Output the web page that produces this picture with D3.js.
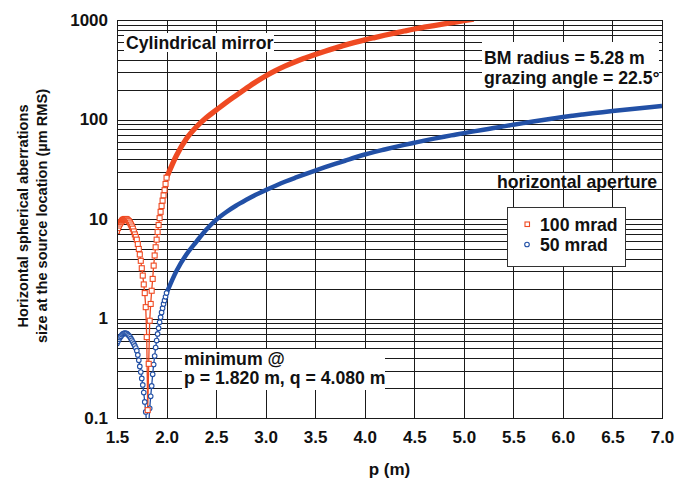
<!DOCTYPE html>
<html>
<head>
<meta charset="utf-8">
<script src="https://cdn.jsdelivr.net/npm/d3@7"></script>
<style>
  body { margin: 0; background: #fff; }
  text { font-family: "Liberation Sans", Arial, sans-serif; font-weight: bold; fill: #111; }
</style>
</head>
<body>
<div id="chart"></div>
<script>
//data
//fine sampling around the minimum (markers visible)
const pFine = [1.50,1.51,1.52,1.53,1.54,1.55,1.56,1.57,1.58,1.59,
  1.60,1.61,1.62,1.63,1.64,1.65,1.66,1.67,1.68,1.69,
  1.70,1.71,1.72,1.73,1.74,1.75,1.76,1.77,1.78,1.79,
  1.80,1.81,1.82,1.83,1.84,1.85,1.86,1.87,1.88,1.89,
  1.90,1.91,1.92,1.93,1.94,1.95,1.96,1.97,1.98,1.99,2.00]
const redFine = [7.6,8.1,8.6,9.0,9.3,9.6,9.8,9.9,10.0,10.0,
  9.9,9.7,9.5,9.2,8.8,8.4,8.0,7.5,7.0,6.6,
  6.2,5.6,5.0,4.4,3.8,3.2,2.7,2.2,1.8,1.3,
  0.65,0.12,0.35,0.95,1.4,1.9,2.5,3.4,4.3,5.2,
  6.2,7.4,8.7,10.2,11.8,13.5,15.3,17.3,19.5,22.5,26]
const blueFine = [0.56,0.59,0.62,0.645,0.665,0.685,0.70,0.71,0.715,0.71,
  0.705,0.69,0.675,0.655,0.63,0.605,0.58,0.555,0.53,0.505,
  0.475,0.43,0.38,0.33,0.29,0.25,0.215,0.18,0.145,0.115,
  0.085,0.05,0.085,0.125,0.165,0.21,0.275,0.345,0.42,0.51,
  0.60,0.70,0.80,0.915,1.03,1.15,1.27,1.40,1.52,1.65,1.80]

//coarse sampling for the rest (markers merge into a band)
const pCoarse = [2.0,2.1,2.2,2.3,2.4,2.5,2.6,2.7,2.8,2.9,
  3.0,3.1,3.2,3.3,3.4,3.5,3.6,3.7,3.8,3.9,
  4.0,4.1,4.2,4.3,4.4,4.5,4.6,4.7,4.8,4.9,
  5.0,5.1,5.2,5.3,5.4,5.5,5.6,5.7,5.8,5.9,
  6.0,6.1,6.2,6.3,6.4,6.5,6.6,6.7,6.8,6.9,7.0]
const redCoarse = [26,43.5,64,84,104,124,148,174,204,238,
  274,310,346,381,415,450,486,522,559,595,
  631,666,702,738,775,812,846,880,914,948,
  985,1020]
const blueCoarse = [1.8,3.0,4.4,5.9,7.8,9.8,11.7,13.6,15.5,17.5,
  19.5,21.6,23.8,26,28.3,30.7,33.2,35.8,38.5,41.5,
  44.5,47.3,50,52.8,55.6,58.4,61.3,64.2,67.1,70,
  73,76,79,82,85.3,88.6,92,95.5,99,102.5,
  106,109.2,112.3,115.4,118.5,121.5,124.5,127.5,130.5,133.5,136.5]

const xTicks = [1.5,2.0,2.5,3.0,3.5,4.0,4.5,5.0,5.5,6.0,6.5,7.0]
const yTicks = [0.1,1,10,100,1000]
const yTickLabels = ['0.1','1','10','100','1000']
const seriesNames = ['100 mrad','50 mrad']

//dimensions
const dimensions = { width: 675, height: 482 }
const plot = { left: 117, right: 662, top: 20, bottom: 418 }
const red = '#ef4a22'
const blue = '#2250a6'
const noteSize = 17.7

const svg = d3.select('#chart')
  .append('svg')
  .attr('width', dimensions.width)
  .attr('height', dimensions.height)

//scales
const x = d3.scaleLinear().domain([1.5, 7]).range([plot.left, plot.right])
const y = d3.scaleLog().domain([0.1, 1000]).range([plot.bottom, plot.top])

svg.append('clipPath').attr('id', 'clip')
  .append('rect')
  .attr('x', plot.left).attr('y', plot.top)
  .attr('width', plot.right - plot.left).attr('height', plot.bottom - plot.top)

//grid
const grid = svg.append('g')
  .attr('stroke', '#1a1a1a')
  .attr('stroke-width', 1)
  .attr('shape-rendering', 'crispEdges')

grid.selectAll('.h')
  .data(y.ticks())
  .join('line')
  .attr('x1', plot.left).attr('x2', plot.right)
  .attr('y1', d => Math.round(y(d)) + 0.5).attr('y2', d => Math.round(y(d)) + 0.5)

grid.selectAll('.v')
  .data(xTicks)
  .join('line')
  .attr('y1', plot.top).attr('y2', plot.bottom)
  .attr('x1', d => Math.round(x(d)) + 0.5).attr('x2', d => Math.round(x(d)) + 0.5)

//axes
const xAxis = svg.append('g')
  .attr('transform', `translate(0,${plot.bottom})`)
  .call(d3.axisBottom(x).tickValues(xTicks).tickFormat(d3.format('.1f')).tickSize(0).tickPadding(13))
xAxis.select('.domain').remove()
xAxis.selectAll('text').attr('font-size', 17).attr('font-family', null)

const yAxis = svg.append('g')
  .attr('transform', `translate(${plot.left},0)`)
  .call(d3.axisLeft(y).tickValues(yTicks).tickFormat((d, i) => yTickLabels[i]).tickSize(0).tickPadding(9))
yAxis.select('.domain').remove()
yAxis.selectAll('text').attr('font-size', 17).attr('font-family', null)

svg.append('text')
  .attr('x', (plot.left + plot.right) / 2)
  .attr('y', 475)
  .attr('text-anchor', 'middle')
  .attr('font-size', 17)
  .text('p (m)')

const yTitle = svg.append('g').attr('transform', 'translate(0,216) rotate(-90)')
yTitle.append('text').attr('x', 0).attr('y', 28).attr('text-anchor', 'middle')
  .attr('font-size', 14.6).text('Horizontal spherical aberrations')
yTitle.append('text').attr('x', 0).attr('y', 47).attr('text-anchor', 'middle')
  .attr('font-size', 14.6).text('size at the source location (µm RMS)')

//annotation boxes (white, no border) drawn over the grid
function note(bx, by, bw, bh, lines, tx, ty, lh) {
  svg.append('rect').attr('x', bx).attr('y', by).attr('width', bw).attr('height', bh).attr('fill', '#fff')
  lines.forEach((t, i) => {
    svg.append('text').attr('x', tx).attr('y', ty + i * lh).attr('font-size', noteSize).text(t)
  })
}
note(124, 33, 150, 19, ['Cylindrical mirror'], 126, 49, 0)
note(482, 42, 177, 47, ['BM radius = 5.28 m', 'grazing angle = 22.5°'], 484, 64, 20)
note(495, 173, 162, 15, ['horizontal aperture'], 497, 188, 0)
note(182, 349, 203, 41, ['minimum @', 'p = 1.820 m, q = 4.080 m'], 184, 365, 19)

//series
const plotArea = svg.append('g').attr('clip-path', 'url(#clip)')

const fineRed = d3.zip(pFine, redFine)
const fineBlue = d3.zip(pFine, blueFine)
const coarseRed = d3.zip(pCoarse.slice(0, redCoarse.length), redCoarse)
const coarseBlue = d3.zip(pCoarse, blueCoarse)

const line = d3.line().x(d => x(d[0])).y(d => y(d[1]))
const smooth = d3.line().curve(d3.curveMonotoneX).x(d => x(d[0])).y(d => y(d[1]))

//dense markers on the flat part overlap into a solid band
plotArea.append('path').datum(coarseBlue)
  .attr('d', smooth).attr('fill', 'none').attr('stroke', blue).attr('stroke-width', 4.5)
plotArea.append('path').datum(coarseRed)
  .attr('d', smooth).attr('fill', 'none').attr('stroke', red).attr('stroke-width', 5.3)

plotArea.append('path').datum(fineRed)
  .attr('d', line).attr('fill', 'none').attr('stroke', red).attr('stroke-width', 1.3)
plotArea.append('path').datum(fineBlue)
  .attr('d', line).attr('fill', 'none').attr('stroke', blue).attr('stroke-width', 1.3)

plotArea.append('g')
  .selectAll('circle')
  .data(fineBlue)
  .join('circle')
  .attr('cx', d => x(d[0]))
  .attr('cy', d => y(d[1]))
  .attr('r', 2.3)
  .attr('fill', '#fff')
  .attr('stroke', blue)
  .attr('stroke-width', 1.1)

plotArea.append('g')
  .selectAll('rect')
  .data(fineRed)
  .join('rect')
  .attr('x', d => x(d[0]) - 2.5)
  .attr('y', d => y(d[1]) - 2.5)
  .attr('width', 5)
  .attr('height', 5)
  .attr('fill', '#fff')
  .attr('stroke', red)
  .attr('stroke-width', 1.1)

//frame
svg.append('rect')
  .attr('x', plot.left + 0.5).attr('y', plot.top + 0.5)
  .attr('width', plot.right - plot.left).attr('height', plot.bottom - plot.top)
  .attr('fill', 'none').attr('stroke', '#1a1a1a').attr('shape-rendering', 'crispEdges')

//legend
const legend = svg.append('g')
legend.append('rect')
  .attr('x', 507.5).attr('y', 207.5).attr('width', 118).attr('height', 59)
  .attr('fill', '#fff').attr('stroke', '#333')
legend.append('rect')
  .attr('x', 525).attr('y', 222).attr('width', 4.5).attr('height', 4.5)
  .attr('fill', '#fff').attr('stroke', red).attr('stroke-width', 1.1)
legend.append('circle')
  .attr('cx', 527).attr('cy', 244.5).attr('r', 2.3)
  .attr('fill', '#fff').attr('stroke', blue).attr('stroke-width', 1.1)
legend.selectAll('.lbl')
  .data(seriesNames)
  .join('text')
  .attr('x', 540)
  .attr('y', (d, i) => 231 + i * 20)
  .attr('font-size', noteSize)
  .text(d => d)
</script>
</body>
</html>
